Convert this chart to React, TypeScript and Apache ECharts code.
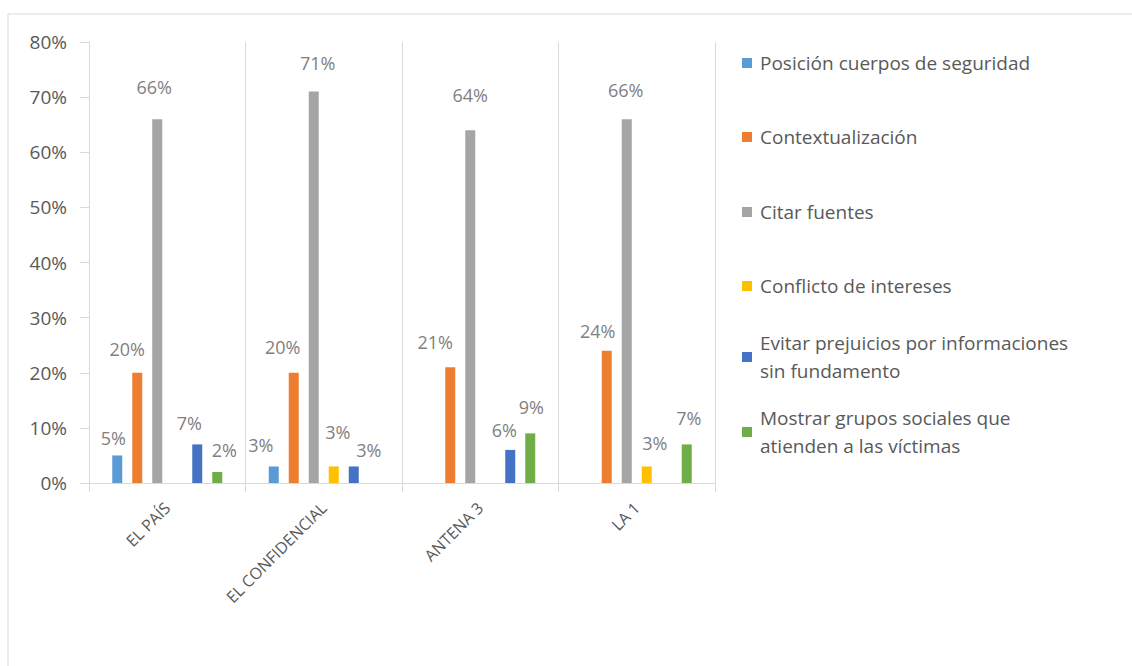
import React, { useEffect, useRef } from "react";
import * as echarts from "echarts";

const categories = ["EL PAÍS", "EL CONFIDENCIAL", "ANTENA 3", "LA 1"];
const seriesNames = [
  "Posición cuerpos de seguridad",
  "Contextualización",
  "Citar fuentes",
  "Conflicto de intereses",
  "Evitar prejuicios por informaciones sin fundamento",
  "Mostrar grupos sociales que atienden a las víctimas",
];
const legendLabels = [
  "Posición cuerpos de seguridad",
  "Contextualización",
  "Citar fuentes",
  "Conflicto de intereses",
  "Evitar prejuicios por informaciones\nsin fundamento",
  "Mostrar grupos sociales que\natienden a las víctimas",
];
const posicion = [5, 3, null, null];
const contextualizacion = [20, 20, 21, 24];
const citarFuentes = [66, 71, 64, 66];
const conflicto = [null, 3, null, 3];
const evitar = [7, 3, 6, null];
const mostrar = [2, null, 9, 7];

const seriesData = [posicion, contextualizacion, citarFuentes, conflicto, evitar, mostrar];
const colors = ["#5B9BD5", "#ED7D31", "#A5A5A5", "#FFC000", "#4472C4", "#70AD47"];
// label placement (style): horizontal shift and height of label centre above bar top
const labelDx = [
  [-4, -13, 0, 0],
  [-10, -11, -15, -9],
  [-3, 4, 0, -1],
  [0, 4, 0, 8],
  [-8, 15, -6, 0],
  [7, 0, 1, 2],
];
const labelRise = [
  [17, 21, 0, 0],
  [24, 26, 25, 20],
  [32, 29, 35, 29],
  [0, 34, 0, 23],
  [21, 16, 20, 0],
  [22, 0, 26, 26],
];
const legendTops = [49, 123, 198, 272, 315, 390];

const FONT = "'Open Sans', sans-serif";

export default function App() {
  const ref = useRef<HTMLDivElement>(null);
  useEffect(() => {
    if (!ref.current) return;
    const chart = echarts.init(ref.current, undefined, { renderer: "svg" });
    const option: any = {
      animation: false,
      backgroundColor: "#ffffff",
      textStyle: { fontFamily: FONT },
      graphic: [
        {
          type: "rect",
          shape: { x: 8, y: 14, width: 1300, height: 800 },
          style: { fill: "none", stroke: "#d9d9d9", lineWidth: 1 },
          silent: true,
        },
      ],
      grid: { left: 89, right: 417, top: 42, bottom: 183 },
      xAxis: {
        type: "category",
        data: categories,
        axisLine: { show: true, lineStyle: { color: "#d9d9d9" } },
        axisTick: { show: true, length: 9, interval: 0, lineStyle: { color: "#d9d9d9" } },
        splitLine: { show: true, interval: 0, lineStyle: { color: "#d9d9d9" } },
        axisLabel: {
          interval: 0,
          rotate: 45,
          margin: 22,
          color: "#595959",
          fontSize: 16,
          fontFamily: FONT,
        },
      },
      yAxis: {
        type: "value",
        min: 0,
        max: 80,
        interval: 10,
        axisLine: { show: true, lineStyle: { color: "#d9d9d9" } },
        axisTick: { show: true, length: 9, lineStyle: { color: "#d9d9d9" } },
        splitLine: { show: false },
        axisLabel: {
          formatter: "{value}%",
          margin: 22,
          color: "#595959",
          fontSize: 19,
          fontFamily: FONT,
        },
      },
      legend: seriesNames.map((name, i) => ({
        data: [name],
        orient: "vertical",
        left: 742,
        top: legendTops[i],
        padding: 0,
        itemWidth: 10,
        itemHeight: 10,
        selectedMode: false,
        icon: "rect",
        formatter: () => legendLabels[i],
        textStyle: {
          color: "#595959",
          fontSize: 19,
          fontFamily: FONT,
          lineHeight: 28,
          padding: legendLabels[i].includes("\n") ? [28, 0, 0, 3] : [0, 0, 0, 3],
        },
      })),
      series: seriesNames.map((name, i) => ({
        name,
        type: "bar",
        data: seriesData[i].map((v, j) => ({
          value: v,
          label: {
            distance: Math.max(0, labelRise[i][j] - 9),
            offset: [labelDx[i][j], 0],
          },
        })),
        barWidth: 10,
        barGap: "100%",
        itemStyle: { color: colors[i] },
        label: {
          show: true,
          position: "top",
          formatter: (p: any) => (p.value == null ? "" : p.value + "%"),
          color: "#7f7f7f",
          fontSize: 18,
          fontFamily: FONT,
        },
      })),
    };
    chart.setOption(option);
    return () => chart.dispose();
  }, []);
  return (
    <div
      ref={ref}
      style={{ position: "absolute", left: 0, top: 0, width: 1132, height: 666 }}
    />
  );
}
